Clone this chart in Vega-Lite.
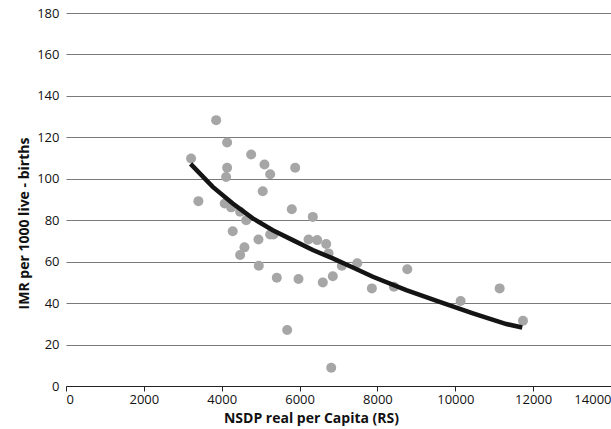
{
  "$schema": "https://vega.github.io/schema/vega-lite/v6.json",
  "width": 545,
  "height": 373,
  "autosize": {"type": "none"},
  "padding": {"left": 66, "top": 13, "right": 0, "bottom": 43},
  "background": "#ffffff",
  "config": {
    "view": {"stroke": null},
    "font": "Open Sans",
    "axis": {
      "labelFont": "Open Sans",
      "labelFontSize": 13,
      "labelColor": "#111111",
      "titleFont": "Open Sans",
      "titleFontSize": 14,
      "titleFontWeight": "bold",
      "titleColor": "#111111"
    }
  },
  "datasets": {
    "points": [
      {"nsdp": 3857, "imr": 128.3},
      {"nsdp": 3214, "imr": 109.8},
      {"nsdp": 4139, "imr": 117.5},
      {"nsdp": 4756, "imr": 111.7},
      {"nsdp": 5098, "imr": 106.9},
      {"nsdp": 4139, "imr": 105.3},
      {"nsdp": 5887, "imr": 105.3},
      {"nsdp": 5245, "imr": 102.2},
      {"nsdp": 4113, "imr": 100.9},
      {"nsdp": 5054, "imr": 94.0},
      {"nsdp": 3401, "imr": 89.2},
      {"nsdp": 4077, "imr": 88.1},
      {"nsdp": 4242, "imr": 86.2},
      {"nsdp": 4473, "imr": 84.1},
      {"nsdp": 4628, "imr": 80.0},
      {"nsdp": 5800, "imr": 85.3},
      {"nsdp": 6340, "imr": 81.6},
      {"nsdp": 4283, "imr": 74.7},
      {"nsdp": 5245, "imr": 73.1},
      {"nsdp": 5330, "imr": 73.1},
      {"nsdp": 4944, "imr": 70.7},
      {"nsdp": 4584, "imr": 66.9},
      {"nsdp": 4473, "imr": 63.2},
      {"nsdp": 6230, "imr": 70.7},
      {"nsdp": 6453, "imr": 70.4},
      {"nsdp": 6684, "imr": 68.5},
      {"nsdp": 6744, "imr": 64.0},
      {"nsdp": 4952, "imr": 58.0},
      {"nsdp": 7086, "imr": 58.0},
      {"nsdp": 7482, "imr": 59.2},
      {"nsdp": 5415, "imr": 52.2},
      {"nsdp": 5972, "imr": 51.6},
      {"nsdp": 6597, "imr": 50.0},
      {"nsdp": 6854, "imr": 53.0},
      {"nsdp": 7857, "imr": 47.1},
      {"nsdp": 8423, "imr": 47.9},
      {"nsdp": 5682, "imr": 27.0},
      {"nsdp": 6813, "imr": 8.8},
      {"nsdp": 8767, "imr": 56.3},
      {"nsdp": 10137, "imr": 41.0},
      {"nsdp": 11140, "imr": 47.1},
      {"nsdp": 11739, "imr": 31.5}
    ],
    "trend": [
      {"nsdp": 3200, "imr": 107.2},
      {"nsdp": 3770, "imr": 96.1},
      {"nsdp": 4283, "imr": 88.1},
      {"nsdp": 4798, "imr": 80.9},
      {"nsdp": 5312, "imr": 75.2},
      {"nsdp": 5826, "imr": 70.4},
      {"nsdp": 6340, "imr": 65.6},
      {"nsdp": 6854, "imr": 61.6},
      {"nsdp": 7369, "imr": 57.2},
      {"nsdp": 7883, "imr": 52.7},
      {"nsdp": 8741, "imr": 46.3},
      {"nsdp": 9598, "imr": 40.6},
      {"nsdp": 10454, "imr": 35.1},
      {"nsdp": 11313, "imr": 29.9},
      {"nsdp": 11720, "imr": 28.2}
    ]
  },
  "encoding": {
    "x": {
      "field": "nsdp",
      "type": "quantitative",
      "scale": {"domain": [0, 14000], "nice": false, "zero": true},
      "axis": {
        "title": "NSDP real per Capita  (RS)",
        "values": [0, 2000, 4000, 6000, 8000, 10000, 12000, 14000],
        "format": "d",
        "grid": false,
        "domain": true,
        "domainColor": "#222222",
        "domainWidth": 1,
        "ticks": true,
        "tickColor": "#222222",
        "tickSize": 5,
        "labelPadding": 2,
        "labelFlush": true,
        "titlePadding": 5,
        "titleX": 245,
        "titleAnchor": null
      }
    },
    "y": {
      "field": "imr",
      "type": "quantitative",
      "scale": {"domain": [0, 180], "nice": false},
      "axis": {
        "title": "IMR per 1000 live - births",
        "values": [0, 20, 40, 60, 80, 100, 120, 140, 160, 180],
        "grid": true,
        "gridColor": "#7a7a7a",
        "gridWidth": 1,
        "domain": false,
        "ticks": false,
        "labelPadding": 7,
        "titleX": -42,
        "titleY": 210,
        "titleBaseline": "middle",
        "titleAngle": -90
      }
    }
  },
  "layer": [
    {
      "data": {"name": "points"},
      "mark": {"type": "circle", "size": 100, "color": "#a6a6a6", "opacity": 1}
    },
    {
      "data": {"name": "trend"},
      "mark": {"type": "line", "color": "#141414", "strokeWidth": 4.5}
    }
  ]
}
